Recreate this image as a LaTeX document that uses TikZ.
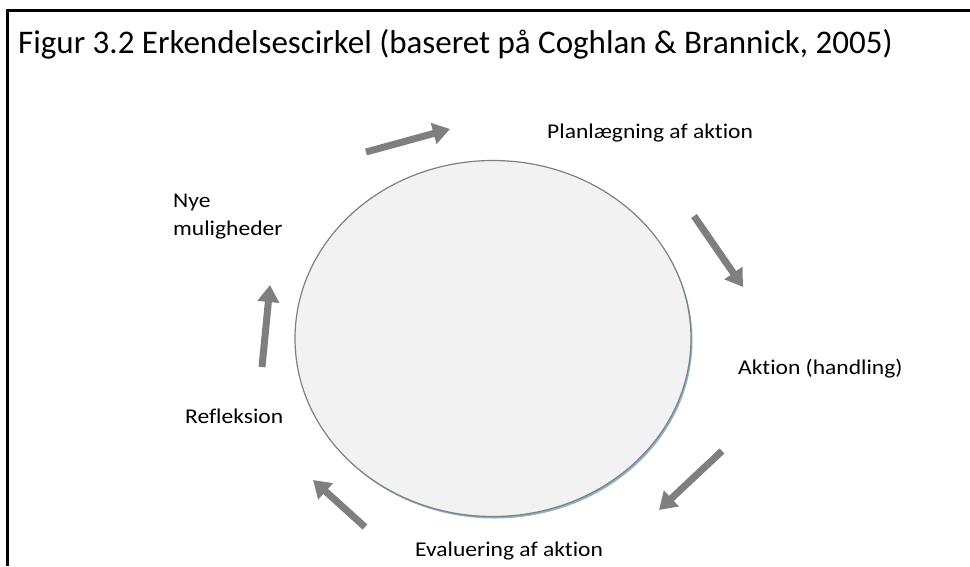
\documentclass[tikz,border=0pt]{standalone}
\usepackage{fontspec}
\setmainfont{Carlito}[Ligatures=NoCommon]
\newfontfamily\lblfont{Carlito}[Ligatures=NoCommon,FakeStretch=1.12]
\usetikzlibrary{arrows.meta,shapes.geometric}
\definecolor{arrgray}{HTML}{7F7F7F}
\definecolor{circfill}{HTML}{F2F2F2}
\definecolor{circline}{HTML}{808080}
\definecolor{shadowblue}{HTML}{8DB3C6}
\tikzset{
  cyclearrow/.style={draw=arrgray, line width=7pt, -{Triangle[length=17pt,width=21pt]}},
  lbl/.style={anchor=base west, inner sep=0pt, font=\lblfont\fontsize{21}{28}\selectfont},
  ttl/.style={anchor=base west, inner sep=0pt, font=\fontsize{33}{38}\selectfont},
  frameline/.style={draw=black, line width=2.2pt},
  bigcircle/.style={ellipse, inner sep=0pt, minimum width=396pt, minimum height=356pt}
}
\begin{document}
\begin{tikzpicture}[x=1pt,y=-1pt]
\useasboundingbox (0,0) rectangle (970,566);
% frame
\coordinate (fbl) at (7.5,566);
\coordinate (ftl) at (7.5,10.5);
\coordinate (ftr) at (970,10.5);
\draw[frameline] (fbl) -- (ftl) -- (ftr);
% title
\node[ttl] (title) at (18,53) {Figur 3.2 Erkendelsescirkel (baseret på Coghlan \& Brannick, 2005)};
% circle with shadow
\node[bigcircle, fill=shadowblue] (cshadow) at (494.5,340.5) {};
\node[bigcircle, draw=circline, fill=circfill, line width=1.2pt] (c) at (493,338.5) {};
% labels
\node[lbl] (plan) at (547,138) {Planlægning af aktion};
\node[lbl] (akt) at (738,374) {Aktion (handling)};
\node[lbl] (eval) at (415,556) {Evaluering af aktion};
\node[lbl] (refl) at (185,423) {Refleksion};
\node[lbl] (nye) at (173,207) {Nye};
\node[lbl] (mul) at (173,235) {muligheder};
% arrows
\coordinate (a1s) at (366,152);
\coordinate (a1e) at (450,129);
\coordinate (a2s) at (694,216);
\coordinate (a2e) at (743,287);
\coordinate (a3s) at (722,451);
\coordinate (a3e) at (659,510);
\coordinate (a4s) at (365,527);
\coordinate (a4e) at (313,480);
\coordinate (a5s) at (262,367);
\coordinate (a5e) at (270,285);
\draw[cyclearrow] (a1s) -- (a1e);
\draw[cyclearrow] (a2s) -- (a2e);
\draw[cyclearrow] (a3s) -- (a3e);
\draw[cyclearrow] (a4s) -- (a4e);
\draw[cyclearrow] (a5s) -- (a5e);
\end{tikzpicture}
\end{document}
